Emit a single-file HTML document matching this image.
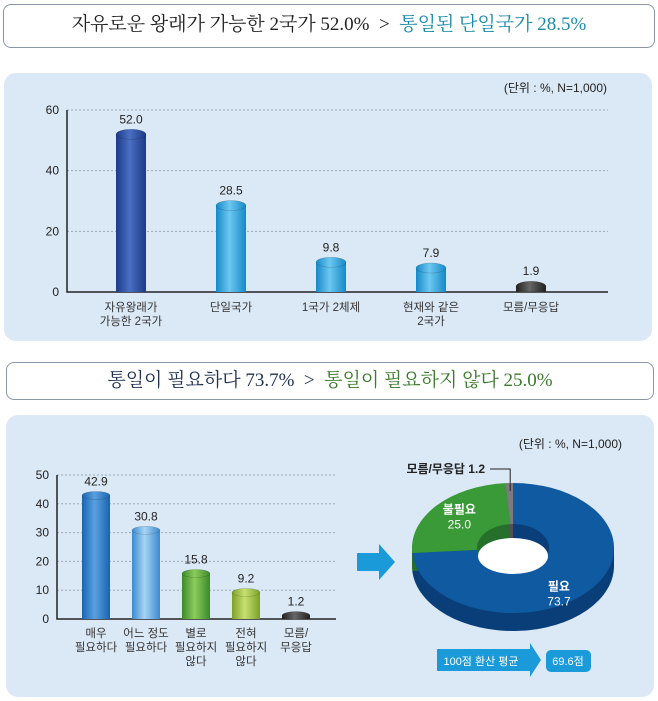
<!DOCTYPE html>
<html><head><meta charset="utf-8">
<style>
body{margin:0;width:658px;height:701px;background:#fff;position:relative;overflow:hidden;font-family:"Liberation Sans","Noto Sans CJK KR",sans-serif;}
.box{position:absolute;border:1.5px solid #8a96a8;border-radius:8px;background:#fff;box-sizing:border-box;text-align:center;font-family:"Liberation Serif","Noto Serif CJK SC",serif;}
.panel{position:absolute;background:#dbe8f5;border-radius:12px;}
svg{position:absolute;left:0;top:0;}
</style></head><body>
<div class="box" style="left:3px;top:4px;width:652px;height:44px;line-height:40px;font-size:19px;color:#222;">자유로운 왕래가 가능한 2국가 52.0% &nbsp;&gt;&nbsp; <span style="color:#1a8aa8">통일된 단일국가 28.5%</span></div>
<div class="panel" style="left:4px;top:73px;width:648px;height:268px;"></div>
<div class="box" style="left:6px;top:362px;width:648px;height:38px;line-height:35px;font-size:19px;color:#1f3050;">통일이 필요하다 73.7% &nbsp;&gt;&nbsp; <span style="color:#3a7a2a">통일이 필요하지 않다 25.0%</span></div>
<div class="panel" style="left:6px;top:415px;width:648px;height:282px;"></div>
<svg id="s" width="658" height="701">
<defs>
<linearGradient id="gd" x1="0" x2="1"><stop offset="0" stop-color="#1c3a86"/><stop offset=".45" stop-color="#4b6fc4"/><stop offset="1" stop-color="#1c3a86"/></linearGradient>
<linearGradient id="gc" x1="0" x2="1"><stop offset="0" stop-color="#1688c8"/><stop offset=".45" stop-color="#6cc8f0"/><stop offset="1" stop-color="#1688c8"/></linearGradient>
<linearGradient id="gk" x1="0" x2="1"><stop offset="0" stop-color="#222"/><stop offset=".45" stop-color="#666"/><stop offset="1" stop-color="#222"/></linearGradient>
<linearGradient id="gb" x1="0" x2="1"><stop offset="0" stop-color="#1a64b0"/><stop offset=".45" stop-color="#5aa0e0"/><stop offset="1" stop-color="#1a64b0"/></linearGradient>
<linearGradient id="gl" x1="0" x2="1"><stop offset="0" stop-color="#3a8ad0"/><stop offset=".45" stop-color="#a8d4f4"/><stop offset="1" stop-color="#3a8ad0"/></linearGradient>
<linearGradient id="gg" x1="0" x2="1"><stop offset="0" stop-color="#3a8a2a"/><stop offset=".45" stop-color="#8ccc5a"/><stop offset="1" stop-color="#3a8a2a"/></linearGradient>
<linearGradient id="gy" x1="0" x2="1"><stop offset="0" stop-color="#7aa02a"/><stop offset=".45" stop-color="#c8e070"/><stop offset="1" stop-color="#7aa02a"/></linearGradient>
</defs>
<text x="607" y="92" text-anchor="end" font-size="12" fill="#222">(단위 : %, N=1,000)</text>
<text x="622" y="448" text-anchor="end" font-size="12" fill="#222">(단위 : %, N=1,000)</text>
<g id="c1"></g><g id="c2"></g><g id="pie"></g>
<path d="M357 553h22v-9l16 18-16 18v-9h-22z" fill="#1a9ad8"/>
<path d="M437 649h93v-6l11 17-11 17v-6h-93z" fill="#1a9ad8"/>
<text x="481" y="665" text-anchor="middle" font-size="11" fill="#fff">100점 환산 평균</text>
<rect x="546" y="650" width="45" height="22" rx="5" fill="#1a9ad8"/>
<text x="568" y="665" text-anchor="middle" font-size="11" fill="#fff">69.6점</text>
</svg>
<script>
const NS="http://www.w3.org/2000/svg";
function mk(p,t,a,txt){const e=document.createElementNS(NS,t);for(const k in a)e.setAttribute(k,a[k]);if(txt!==undefined)e.textContent=txt;p.appendChild(e);return e;}
const cats1=[["자유왕래가","가능한 2국가"],["단일국가"],["1국가 2체제"],["현재와 같은","2국가"],["모름/무응답"]];
const vals1=[52.0,28.5,9.8,7.9,1.9];
const ticks1=[0,20,40,60];
const fills1=["gd","gc","gc","gc","gk"];
const cats2=[["매우","필요하다"],["어느 정도","필요하다"],["별로","필요하지","않다"],["전혀","필요하지","않다"],["모름/","무응답"]];
const vals2=[42.9,30.8,15.8,9.2,1.2];
const ticks2=[0,10,20,30,40,50];
const fills2=["gb","gl","gg","gy","gk"];
const pieLabels=["필요","불필요","모름/무응답"];
const pieVals=[73.7,25.0,1.2];

function barChart(g,cats,vals,ticks,fills,o){
  const y=v=>o.y0-(v-ticks[0])/(ticks[ticks.length-1]-ticks[0])*(o.y0-o.y1);
  const x=i=>o.xs+i*o.step;
  ticks.forEach(t=>{
    if(t>ticks[0]){const l=mk(g,"line",{x1:o.x0,x2:o.x1,y1:y(t),y2:y(t),stroke:"#9aa8b8","stroke-dasharray":"2,2"});
    
    }
    const tl=mk(g,"text",{x:o.x0-8,y:y(t)+4,"text-anchor":"end","font-size":12,fill:"#222"},String(t));
    
    
  });
  const ax=mk(g,"path",{d:`M${o.x0} ${o.y1}V${o.y0}H${o.x1}`,stroke:"#222","stroke-width":1.5,fill:"none"});
  
  
  vals.forEach((v,i)=>{
    const cx=x(i),w=o.bw,ty=y(v),ry=o.ry;
    const b=mk(g,"path",{d:`M${cx-w/2} ${ty}V${o.y0}H${cx+w/2}V${ty}Z`,fill:`url(#${fills[i]})`});
    
    
    const c=mk(g,"ellipse",{cx:cx,cy:ty,rx:w/2,ry:ry,fill:`url(#${fills[i]})`,stroke:"rgba(0,0,0,.25)","stroke-width":.5});
    
    
    const vl=mk(g,"text",{x:cx,y:ty-ry-6,"text-anchor":"middle","font-size":12,fill:"#222"},v.toFixed(1));
    
    
    cats[i].forEach((s,j)=>{const t=mk(g,"text",{x:cx,y:o.y0+o.ly+j*14,"text-anchor":"middle","font-size":11.5,fill:"#333"},s);
      
      });
  });
}
barChart(document.getElementById("c1"),cats1,vals1,ticks1,fills1,{x0:67,x1:608,y0:292,y1:110,bw:30,ry:5,xs:131,step:100,ly:19});
barChart(document.getElementById("c2"),cats2,vals2,ticks2,fills2,{x0:57,x1:336,y0:619,y1:475,bw:28,ry:4,xs:96,step:50,ly:18});

const pg=document.getElementById("pie");
const pcx=513,pcy=548,rx=101,ry=65,hx=36,hy=24,dep=18;
const topCol=["#0f5aa0","#3a9a38","#7a7a80"],sideCol=["#0a3e78","#25702a","#505058"];
const tot=pieVals.reduce((a,b)=>a+b,0);
function pt(a,r1,r2,oy){return [pcx+r1*Math.sin(a),pcy+oy-r2*Math.cos(a)];}
function seg(a0,a1,oy,col){
  const p0=pt(a0,rx,ry,oy),p1=pt(a1,rx,ry,oy),q1=pt(a1,hx,hy,oy),q0=pt(a0,hx,hy,oy);const lg=(a1-a0)>Math.PI?1:0;
  return mk(pg,"path",{d:`M${p0}A${rx} ${ry} 0 ${lg} 1 ${p1}L${q1}A${hx} ${hy} 0 ${lg} 0 ${q0}Z`,fill:col});
}
let acc=0;const angs=[];
pieVals.forEach(v=>{const a1=acc+v/tot*2*Math.PI;angs.push([acc,a1]);acc=a1;});
angs.forEach(([a0,a1],i)=>{for(let k=dep;k>0;k-=2){const s=seg(a0,a1,k,sideCol[i]);
  
  }});
angs.forEach(([a0,a1],i)=>{const s=seg(a0,a1,0,topCol[i]);
  
  });
const hole=mk(pg,"ellipse",{cx:pcx,cy:pcy+8,rx:hx-1,ry:hy-6,fill:"#fff"});


function lab(txt,x,y,col,sz,w){const t=mk(pg,"text",{x:x,y:y,"text-anchor":"middle","font-size":sz,fill:col,"font-weight":w||"normal"},txt);
  
  }
const mid=(i,r)=>{const m=(angs[i][0]+angs[i][1])/2;return pt(m,r*rx,r*ry,0);};
let p=mid(0,0.62);lab(pieLabels[0],p[0],p[1]+15,"#fff",12,"bold");lab(pieVals[0].toFixed(1),p[0],p[1]+30,"#fff",12);
p=mid(1,0.7);lab(pieLabels[1],p[0],p[1]-5,"#fff",12,"bold");lab(pieVals[1].toFixed(1),p[0],p[1]+10,"#fff",12);
const gm=pt((angs[2][0]+angs[2][1])/2,rx,ry,0);
const ll=mk(pg,"path",{d:`M490 469H${gm[0]+1}V${gm[1]+8}`,stroke:"#222",fill:"none"});


const gl=mk(pg,"text",{x:485,y:473,"text-anchor":"end","font-size":12,fill:"#222","font-weight":"bold"},pieLabels[2]+" "+pieVals[2].toFixed(1));


</script>
</body></html>
